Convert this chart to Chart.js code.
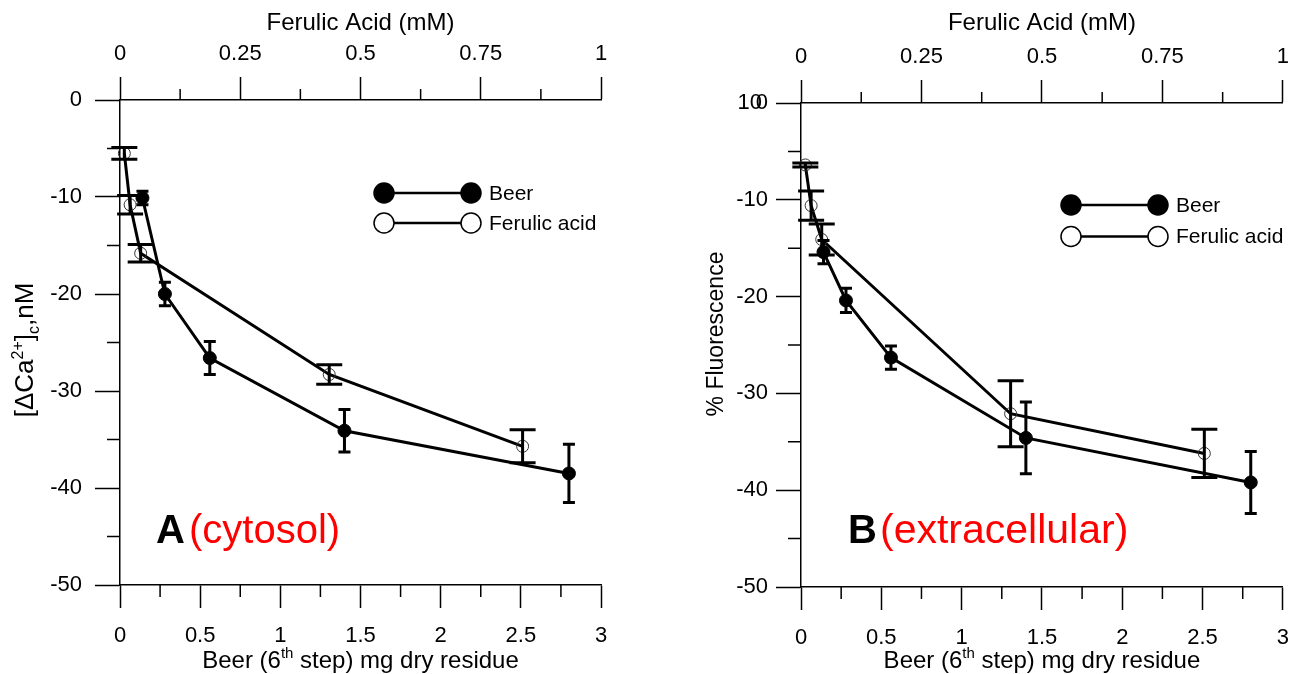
<!DOCTYPE html>
<html>
<head>
<meta charset="utf-8">
<title>Beer and ferulic acid dose response</title>
<script src="https://cdn.jsdelivr.net/npm/chart.js@4.4.0/dist/chart.umd.min.js"></script>
<style>
    html, body { margin: 0; padding: 0; background: #fff; }
    #wrap { position: relative; width: 1291px; height: 674px; overflow: hidden; }
    .panel { position: absolute; top: 0; height: 674px; }
    #panelA { left: 0; width: 645px; }
    #panelB { left: 645px; width: 659px; }
</style>
</head>
<body>
<div id="wrap">
    <div class="panel" id="panelA"><canvas id="chartA"></canvas></div>
    <div class="panel" id="panelB"><canvas id="chartB"></canvas></div>
</div>
<script>
// Doses: beer extract (6th step, mg dry residue) and ferulic acid (mM)
const beerDose = [0.14, 0.28, 0.56, 1.4, 2.8];
const ferulicDose = [0.009, 0.021, 0.043, 0.435, 0.837];

// A - cytosolic [Ca2+] change, nM (mean and error)
const beerCyto = [-10.1, -20.0, -26.6, -34.1, -38.5];
const beerCytoErr = [0.7, 1.2, 1.7, 2.2, 3.0];
const ferulicCyto = [-5.5, -10.8, -15.8, -28.3, -35.7];
const ferulicCytoErr = [0.6, 0.95, 0.9, 1.0, 1.7];

// B - extracellular, % fluorescence (mean and error)
const beerExtra = [-15.4, -20.4, -26.3, -34.6, -39.2];
const beerExtraErr = [1.2, 1.25, 1.2, 3.7, 3.2];
const ferulicExtra = [-6.4, -10.6, -14.1, -32.1, -36.2];
const ferulicExtraErr = [0.2, 1.5, 1.6, 3.4, 2.5];

// Axis ticks
const beerTicks = [0, 0.5, 1, 1.5, 2, 2.5, 3];
const ferulicTicks = [0, 0.25, 0.5, 0.75, 1];
const yTicks = [-50, -40, -30, -20, -10, 0];

const FONT = "'Liberation Sans', Arial, Helvetica, sans-serif";
Chart.defaults.font.family = FONT;
Chart.defaults.color = '#000';

// Vertical error bars with caps, drawn from each dataset's "errors" array
const errorBars = {
    id: 'errorBars',
    afterDatasetsDraw(chart) {
        const ctx = chart.ctx;
        const ys = chart.scales.y;
        chart.data.datasets.forEach(ds => {
            if (!ds.errors) return;
            const xs = chart.scales[ds.xAxisID];
            ctx.save();
            ctx.strokeStyle = '#000';
            ctx.lineWidth = 3;
            ds.data.forEach((p, j) => {
                const px = xs.getPixelForValue(p.x);
                const top = ys.getPixelForValue(p.y + ds.errors[j]);
                const bot = ys.getPixelForValue(p.y - ds.errors[j]);
                const w = ds.capHalf;
                ctx.beginPath();
                ctx.moveTo(px, top); ctx.lineTo(px, bot);
                ctx.moveTo(px - w, top); ctx.lineTo(px + w, top);
                ctx.moveTo(px - w, bot); ctx.lineTo(px + w, bot);
                ctx.stroke();
            });
            ctx.restore();
        });
    }
};

// Text with super/subscripts, centred on (cx, cy), optionally reading bottom-to-top
function drawRich(ctx, parts, cx, cy, size, rotate) {
    const small = Math.round(size * 0.62);
    const fontOf = p => (p.sup || p.sub ? small : size) + 'px ' + FONT;
    ctx.save();
    ctx.translate(cx, cy);
    if (rotate) ctx.rotate(-Math.PI / 2);
    let total = 0;
    parts.forEach(p => { ctx.font = fontOf(p); total += ctx.measureText(p.t).width; });
    let x = -total / 2;
    const base = size * 0.36;
    ctx.fillStyle = '#000';
    ctx.textAlign = 'left';
    ctx.textBaseline = 'alphabetic';
    parts.forEach(p => {
        ctx.font = fontOf(p);
        const dy = p.sup ? -size * 0.4 : (p.sub ? size * 0.22 : 0);
        ctx.fillText(p.t, x, base + dy);
        x += ctx.measureText(p.t).width;
    });
    ctx.restore();
}

const xTitle = [{ t: 'Beer (6' }, { t: 'th', sup: true }, { t: ' step) mg dry residue' }];

// Minor ticks, axis titles, legend and panel tag
function decor(o) {
    return {
        id: 'decor',
        afterDraw(chart) {
            const ctx = chart.ctx;
            const area = chart.chartArea;
            const { x, x2, y } = chart.scales;
            ctx.save();
            ctx.strokeStyle = '#000';
            ctx.lineWidth = 1.5;
            ctx.beginPath();
            for (let i = 1; i < beerTicks.length; i++) {
                const px = x.getPixelForValue((beerTicks[i - 1] + beerTicks[i]) / 2);
                ctx.moveTo(px, area.bottom); ctx.lineTo(px, area.bottom + 12);
            }
            for (let i = 1; i < ferulicTicks.length; i++) {
                const px = x2.getPixelForValue((ferulicTicks[i - 1] + ferulicTicks[i]) / 2);
                ctx.moveTo(px, area.top); ctx.lineTo(px, area.top - 11);
            }
            for (let i = 1; i < yTicks.length; i++) {
                const py = y.getPixelForValue((yTicks[i - 1] + yTicks[i]) / 2);
                ctx.moveTo(area.left, py); ctx.lineTo(area.left - 13, py);
            }
            ctx.stroke();

            // label overprinted at the top of the y axis
            if (o.zeroOverlay) {
                ctx.font = '22px ' + FONT;
                ctx.fillStyle = '#000';
                ctx.textAlign = 'right';
                ctx.textBaseline = 'middle';
                ctx.fillText(o.zeroOverlay, area.left - 25 - o.yPad - 6, y.getPixelForValue(0));
            }

            // axis titles
            drawRich(ctx, xTitle, (area.left + area.right) / 2, 659, 24, false);
            drawRich(ctx, o.yTitle, o.yTitlePos[0], o.yTitlePos[1], o.yTitleSize, true);

            // legend: line with a marker at each end
            const lx = area.left + o.legend.dx;
            const len = 87;
            chart.data.datasets.forEach((ds, i) => {
                const ly = area.top + o.legend.dy + i * o.legend.gap;
                ctx.lineWidth = 2.5;
                ctx.beginPath();
                ctx.moveTo(lx, ly); ctx.lineTo(lx + len, ly);
                ctx.stroke();
                [lx, lx + len].forEach(cx => {
                    ctx.beginPath();
                    ctx.arc(cx, ly, 10, 0, Math.PI * 2);
                    ctx.fillStyle = ds.legendFill;
                    ctx.fill();
                    ctx.lineWidth = 1.5;
                    ctx.stroke();
                });
                ctx.fillStyle = '#000';
                ctx.font = '21px ' + FONT;
                ctx.textAlign = 'left';
                ctx.textBaseline = 'middle';
                ctx.fillText(ds.label, lx + len + 18, ly + 1);
            });

            // panel tag
            ctx.textBaseline = 'alphabetic';
            ctx.textAlign = 'left';
            ctx.fillStyle = '#000';
            ctx.font = 'bold 40px ' + FONT;
            ctx.fillText(o.tag, o.tagPos[0], o.tagPos[2]);
            ctx.fillStyle = '#ff0000';
            ctx.font = o.tagSize + 'px ' + FONT;
            ctx.fillText(o.tagNote, o.tagPos[1], o.tagPos[2]);
            ctx.restore();
        }
    };
}

function makePanel(id, o) {
    const tickFont = { family: FONT, size: 22 };
    const axisGrid = { drawOnChartArea: false, tickWidth: 1.5, tickColor: '#000' };
    const axisBorder = { color: '#000', width: 1.5 };
    return new Chart(document.getElementById(id), {
        type: 'line',
        data: {
            datasets: [
                {
                    label: 'Beer',
                    xAxisID: 'x',
                    yAxisID: 'y',
                    data: beerDose.map((d, i) => ({ x: d, y: o.beer[i] })),
                    errors: o.beerErr,
                    capHalf: 6,
                    legendFill: '#000',
                    borderColor: '#000',
                    borderWidth: 3,
                    pointRadius: 6.5,
                    pointBackgroundColor: '#000',
                    pointBorderColor: '#000',
                    pointBorderWidth: 1,
                    tension: 0,
                    clip: false
                },
                {
                    label: 'Ferulic acid',
                    xAxisID: 'x2',
                    yAxisID: 'y',
                    data: ferulicDose.map((d, i) => ({ x: d, y: o.ferulic[i] })),
                    errors: o.ferulicErr,
                    capHalf: 13,
                    legendFill: '#fff',
                    borderColor: '#000',
                    borderWidth: 3,
                    pointRadius: 6,
                    pointBackgroundColor: 'rgba(255,255,255,0)',
                    pointBorderColor: '#333',
                    pointBorderWidth: 1,
                    tension: 0,
                    clip: false
                }
            ]
        },
        options: {
            responsive: true,
            maintainAspectRatio: false,
            animation: false,
            layout: { padding: { left: 0, right: o.padRight, top: 0, bottom: 0 } },
            plugins: {
                legend: { display: false },
                tooltip: { enabled: false }
            },
            scales: {
                x: {
                    type: 'linear',
                    position: 'bottom',
                    min: 0, max: 3,
                    afterBuildTicks: s => { s.ticks = beerTicks.map(v => ({ value: v })); },
                    afterFit: s => { s.height = o.bottomH; },
                    ticks: { autoSkip: false, maxRotation: 0, padding: 15, color: '#000', font: tickFont, callback: v => String(v) },
                    grid: Object.assign({ tickLength: 23 }, axisGrid),
                    border: axisBorder
                },
                x2: {
                    type: 'linear',
                    position: 'top',
                    min: 0, max: 1,
                    afterBuildTicks: s => { s.ticks = ferulicTicks.map(v => ({ value: v })); },
                    afterFit: s => { s.height = o.topH; },
                    ticks: { autoSkip: false, maxRotation: 0, padding: 10, color: '#000', font: tickFont, callback: v => String(v) },
                    grid: Object.assign({ tickLength: 23 }, axisGrid),
                    border: axisBorder,
                    title: {
                        display: true,
                        text: 'Ferulic Acid (mM)',
                        color: '#000',
                        font: { family: FONT, size: 24 },
                        padding: { top: 9, bottom: 0 }
                    }
                },
                y: {
                    type: 'linear',
                    position: 'left',
                    min: -50, max: 0,
                    afterBuildTicks: s => { s.ticks = yTicks.map(v => ({ value: v })); },
                    afterFit: s => { s.width = o.yBoxW; },
                    ticks: { autoSkip: false, padding: o.yPad, color: '#000', font: tickFont, callback: v => String(v) },
                    grid: Object.assign({ tickLength: 25 }, axisGrid),
                    border: axisBorder
                }
            }
        },
        plugins: [errorBars, decor(o)]
    });
}

makePanel('chartA', {
    beer: beerCyto, beerErr: beerCytoErr,
    ferulic: ferulicCyto, ferulicErr: ferulicCytoErr,
    yBoxW: 120, padRight: 44, topH: 100, bottomH: 89, yPad: 13,
    yTitle: [{ t: '[\u0394Ca' }, { t: '2+', sup: true }, { t: ']' }, { t: 'c', sub: true }, { t: ',nM' }],
    yTitleSize: 26, yTitlePos: [24, 350],
    legend: { dx: 264, dy: 93, gap: 30 },
    tag: 'A', tagNote: '(cytosol)', tagSize: 40, tagPos: [156, 189, 543]
});

makePanel('chartB', {
    beer: beerExtra, beerErr: beerExtraErr,
    ferulic: ferulicExtra, ferulicErr: ferulicExtraErr,
    yBoxW: 156, padRight: 7, topH: 103, bottomH: 87, yPad: 8,
    yTitle: [{ t: '% Fluorescence' }],
    yTitleSize: 23, yTitlePos: [70, 334],
    legend: { dx: 270, dy: 102, gap: 31.5 },
    tag: 'B', tagNote: '(extracellular)', tagSize: 41, tagPos: [203, 235, 543],
    zeroOverlay: '10'
});
</script>
</body>
</html>
